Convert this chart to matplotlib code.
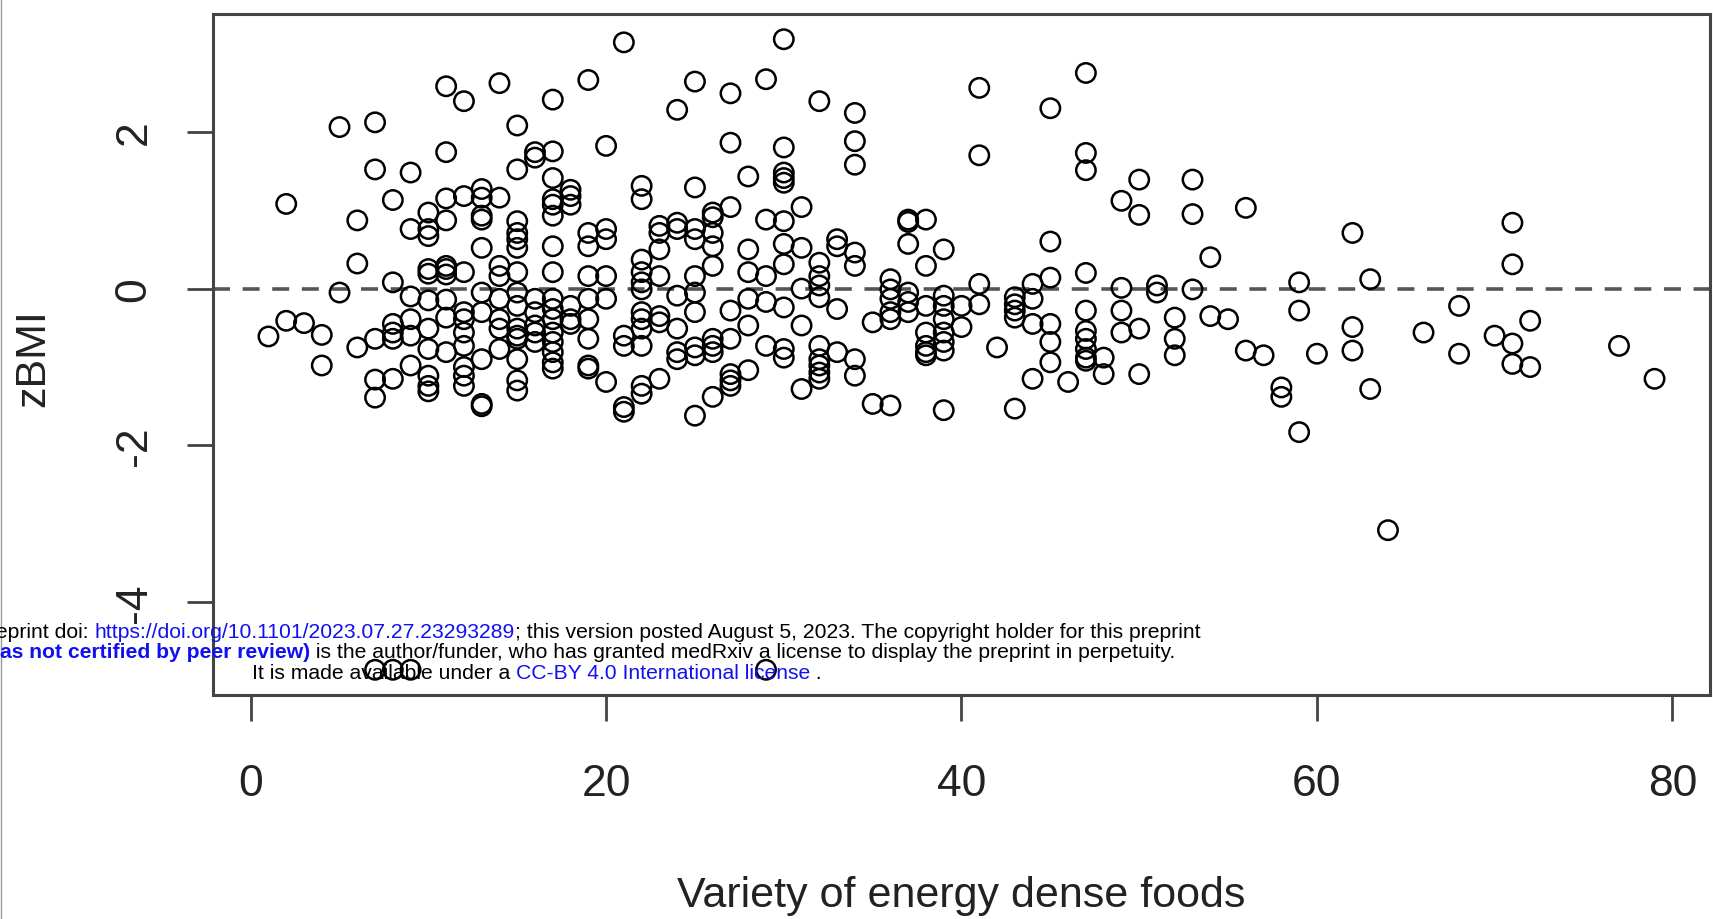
import matplotlib
matplotlib.use("Agg")
import matplotlib.pyplot as plt
from matplotlib.lines import Line2D
from matplotlib.offsetbox import TextArea, HPacker, AnnotationBbox

plt.rcParams['font.family'] = ['Liberation Sans', 'DejaVu Sans']
plt.rcParams['axes.unicode_minus'] = False

# variety of energy dense foods (x) and zBMI (y)
variety = (
    [1] + [2]*2 + [3] + [4]*2 + [5]*2 + [6]*3 + [7]*6 + [8]*7 + [9]*7 + [10]*11
    + [11]*10 + [12]*10 + [13]*10 + [14]*8 + [15]*15 + [16]*7 + [17]*16 + [18]*6
    + [19]*9 + [20]*6 + [21]*5 + [22]*12 + [23]*7 + [24]*7 + [25]*10 + [26]*9
    + [27]*8 + [28]*6 + [29]*6 + [30]*11 + [31]*5 + [32]*10 + [33]*4 + [34]*7
    + [35]*2 + [36]*6 + [37]*6 + [38]*7 + [39]*8 + [40]*2 + [41]*4 + [42] + [43]*5
    + [44]*4 + [45]*6 + [46] + [47]*10 + [48]*2 + [49]*4 + [50]*4 + [51]*2 + [52]*3
    + [53]*3 + [54]*2 + [55] + [56]*2 + [57] + [58]*2 + [59]*3 + [60] + [62]*3
    + [63]*2 + [64] + [66] + [68]*2 + [70] + [71]*4 + [72]*2 + [77] + [79]
)
zbmi = [
    -0.61,
    1.08, -0.41,
    -0.44,
    -0.59, -0.98,
    2.06, -0.05,
    0.87, 0.32, -0.75,
    2.12, 1.52, -0.64, -1.16, -1.39, -4.86,
    1.13, 0.08, -0.45, -0.56, -0.64, -1.15, -4.86,
    1.48, 0.76, -0.10, -0.39, -0.60, -0.98, -4.86,
    0.97, 0.76, 0.67, 0.25, 0.19, -0.15, -0.51, -0.77, -1.11, -1.24, -1.31,
    2.58, 1.74, 1.15, 0.87, 0.29, 0.25, 0.18, -0.14, -0.37, -0.81,
    2.39, 1.18, 0.21, -0.30, -0.39, -0.56, -0.73, -1.00, -1.11, -1.24,
    1.27, 1.16, 0.93, 0.88, 0.52, -0.05, -0.30, -0.90, -1.47, -1.50,
    2.62, 1.16, 0.29, 0.16, -0.13, -0.39, -0.51, -0.77,
    2.08, 1.52, 0.86, 0.71, 0.63, 0.52, 0.21, -0.05, -0.22, -0.51, -0.60, -0.64, -0.90, -1.17, -1.30,
    1.74, 1.67, -0.13, -0.30, -0.47, -0.56, -0.68,
    2.41, 1.75, 1.41, 1.14, 1.07, 0.93, 0.54, 0.21, -0.13, -0.26, -0.39, -0.56, -0.68, -0.81, -0.94, -1.02,
    1.26, 1.18, 1.07, -0.22, -0.39, -0.45,
    2.66, 0.71, 0.54, 0.16, -0.13, -0.39, -0.64, -0.98, -1.02,
    1.82, 0.76, 0.63, 0.16, -0.13, -1.19,
    3.14, -0.60, -0.73, -1.51, -1.57,
    1.31, 1.14, 0.37, 0.21, 0.08, -0.01, -0.30, -0.39, -0.51, -0.73, -1.24, -1.34,
    0.80, 0.71, 0.50, 0.16, -0.35, -0.43, -1.15,
    2.28, 0.84, 0.76, -0.09, -0.51, -0.81, -0.90,
    2.64, 1.29, 0.76, 0.63, 0.16, -0.05, -0.30, -0.75, -0.85, -1.62,
    0.97, 0.91, 0.71, 0.54, 0.29, -0.64, -0.73, -0.81, -1.38,
    2.49, 1.86, 1.04, -0.28, -0.64, -1.09, -1.17, -1.24,
    1.43, 0.50, 0.21, -0.13, -0.47, -1.04,
    2.67, 0.88, 0.16, -0.17, -0.73, -4.86,
    3.18, 1.80, 1.48, 1.41, 1.35, 0.86, 0.57, 0.31, -0.24, -0.77, -0.88,
    1.04, 0.52, 0.00, -0.47, -1.28,
    2.39, 0.33, 0.16, 0.04, -0.11, -0.73, -0.90, -0.98, -1.07, -1.15,
    0.63, 0.54, -0.26, -0.81,
    2.24, 1.88, 1.58, 0.46, 0.29, -0.90, -1.11,
    -0.43, -1.47,
    0.12, -0.01, -0.13, -0.30, -0.39, -1.49,
    0.88, 0.85, 0.57, -0.05, -0.17, -0.30,
    0.88, 0.29, -0.22, -0.56, -0.73, -0.81, -0.85,
    0.50, -0.09, -0.22, -0.39, -0.56, -0.68, -0.79, -1.55,
    -0.22, -0.49,
    2.56, 1.70, 0.06, -0.20,
    -0.75,
    -0.11, -0.20, -0.28, -0.37, -1.53,
    0.06, -0.13, -0.45, -1.15,
    2.30, 0.60, 0.14, -0.45, -0.68, -0.94,
    -1.19,
    2.75, 1.73, 1.51, 0.20, -0.28, -0.54, -0.64, -0.77, -0.88, -0.92,
    -0.88, -1.09,
    1.12, 0.01, -0.28, -0.56,
    1.39, 0.94, -0.51, -1.09,
    0.04, -0.05,
    -0.37, -0.64, -0.85,
    1.39, 0.95, -0.01,
    0.40, -0.35,
    -0.39,
    1.03, -0.79,
    -0.85,
    -1.26, -1.38,
    0.08, -0.28, -1.83,
    -0.83,
    0.71, -0.49, -0.79,
    0.12, -1.28,
    -3.08,
    -0.56,
    -0.22, -0.83,
    -0.60,
    0.84, 0.31, -0.70, -0.96,
    -0.41, -1.00,
    -0.73,
    -1.15,
]

xticks = [0, 20, 40, 60, 80]
yticks = [-4, -2, 0, 2]

fig = plt.figure(figsize=(17.13, 9.2), dpi=100)
ax = fig.add_axes([213/1713, 1 - 696/920, (1710 - 213)/1713, (696 - 15)/920])

ax.scatter(variety, zbmi, s=195, facecolors='none', edgecolors='black', linewidths=1.8, zorder=3)
ax.axhline(0, color='#555555', lw=2.6, ls=(0, (4.7, 3.5)), zorder=2)

# R style 4% padding around the data range
xr = max(variety) - min(variety)
yr = max(zbmi) - min(zbmi)
ax.set_xlim(min(variety) - 0.04*xr, max(variety) + 0.04*xr)
ax.set_ylim(min(zbmi) - 0.04*yr, max(zbmi) + 0.04*yr)

for sp in ax.spines.values():
    sp.set_linewidth(2.2)
    sp.set_color('#444444')

ax.set_xticks(xticks)
ax.set_yticks(yticks)
ax.set_yticklabels([str(v) for v in yticks], rotation=90, va='center')
ax.tick_params(length=19, width=2, color='#444444', labelsize=32, labelcolor='#222222')
ax.tick_params(axis='x', pad=30)
ax.tick_params(axis='y', pad=23)

fig.text(961/1713, 1 - 896/920, 'Variety of energy dense foods', ha='center', va='center',
         fontsize=31, color='#222222')
fig.text(33/1713, 1 - 358/920, 'zBMI', ha='center', va='center', rotation=90,
         fontsize=31, color='#222222')

# medRxiv watermark
blue = '#1010f0'
wm_lines = [
    [('medRxiv preprint doi: ', 'black', 'normal'),
     ('https://doi.org/10.1101/2023.07.27.23293289', blue, 'normal'),
     ('; this version posted August 5, 2023. The copyright holder for this preprint', 'black', 'normal')],
    [('(which was not certified by peer review)', blue, 'bold'),
     (' is the author/funder, who has granted medRxiv a license to display the preprint in perpetuity.', 'black', 'normal')],
    [('It is made available under a ', 'black', 'normal'),
     ('CC-BY 4.0 International license', blue, 'normal'),
     (' .', 'black', 'normal')],
]
wm_x = [545, 543, 537]
wm_y = [632, 653, 674]
for parts, xx, yy in zip(wm_lines, wm_x, wm_y):
    boxes = [TextArea(s, textprops=dict(color=c, fontweight=w, fontsize=15.2)) for s, c, w in parts]
    row = HPacker(children=boxes, sep=0, pad=0, align='baseline')
    ab = AnnotationBbox(row, (xx/1713, 1 - yy/920), xycoords='figure fraction',
                        box_alignment=(0.5, 0.5), frameon=False, pad=0)
    ab.set_zorder(10)
    fig.add_artist(ab)

fig.add_artist(Line2D([0.0008, 0.0008], [0, 1], transform=fig.transFigure, color='#999999', lw=1))

fig.savefig('out.png', dpi=100, facecolor='white')
